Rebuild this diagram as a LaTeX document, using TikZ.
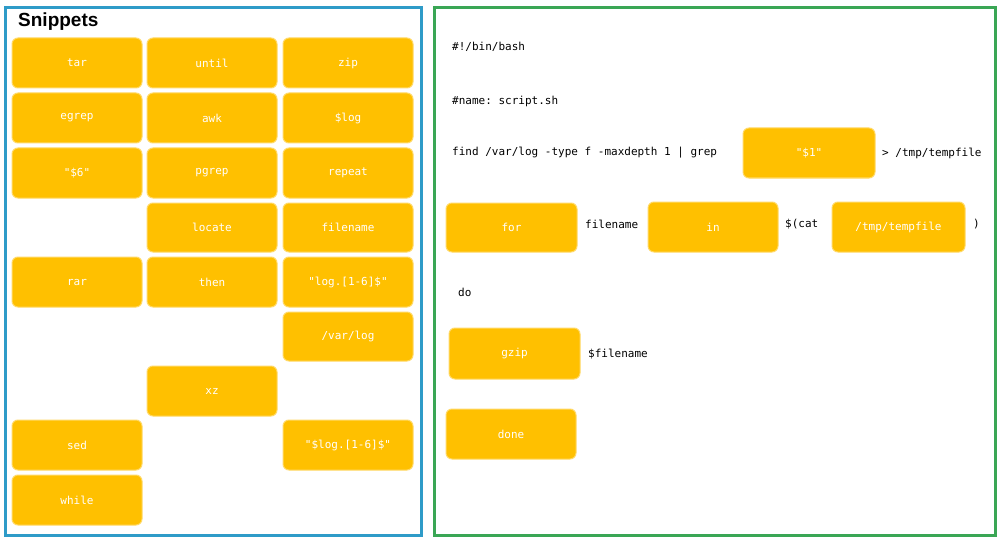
\documentclass[tikz,border=0pt]{standalone}
\usepackage{fontspec}
\setmonofont{DejaVu Sans Mono}
\setsansfont{Liberation Sans}
\definecolor{gold}{HTML}{FFC000}
\definecolor{pblue}{HTML}{2E9BC8}
\definecolor{pgreen}{HTML}{3AA655}
\begin{document}
\begin{tikzpicture}[x=1pt,y=-1pt,
  chip/.style={fill=gold,draw=gold!60!white,line width=1pt,rounded corners=6pt},
  chiptxt/.style={text=white,font=\ttfamily\fontsize{11}{13}\selectfont},
  code/.style={anchor=west,inner sep=0pt,font=\ttfamily\fontsize{11}{13}\selectfont}]
\useasboundingbox (0,0) rectangle (1000,540);
\fill[white] (0,0) rectangle (1000,540);
\draw[pblue,line width=3pt] (5,8) rectangle (421,535);
\draw[pgreen,line width=3pt] (434,8) rectangle (995,535);
\node[anchor=west,inner sep=0pt,font=\sffamily\bfseries\fontsize{19}{21}\selectfont] (title) at (18,22) {Snippets};
\newcommand\chipbox[6]{%
  \draw[chip] (#2,#3) rectangle (#4,#5);
  \node[chiptxt] (#1) at ({(#2+#4)/2},{(#3+#5)/2}) {#6};}
\chipbox{s1}{12}{38}{142}{88}{tar}
\chipbox{s2}{147}{38}{277}{88}{until}
\chipbox{s3}{283}{38}{413}{88}{zip}
\chipbox{s4}{12}{93}{142}{143}{egrep}
\chipbox{s5}{147}{93}{277}{143}{awk}
\chipbox{s6}{283}{93}{413}{143}{\$log}
\chipbox{s7}{12}{148}{142}{198}{"\$6"}
\chipbox{s8}{147}{148}{277}{198}{pgrep}
\chipbox{s9}{283}{148}{413}{198}{repeat}
\chipbox{s10}{147}{203}{277}{252}{locate}
\chipbox{s11}{283}{203}{413}{252}{filename}
\chipbox{s12}{12}{257}{142}{307}{rar}
\chipbox{s13}{147}{257}{277}{307}{then}
\chipbox{s14}{283}{257}{413}{307}{"log.[1-6]\$"}
\chipbox{s15}{283}{312}{413}{361}{/var/log}
\chipbox{s16}{147}{366}{277}{416}{xz}
\chipbox{s17}{12}{420}{142}{470}{sed}
\chipbox{s18}{283}{420}{413}{470}{"\$log.[1-6]\$"}
\chipbox{s19}{12}{475}{142}{525}{while}
\node[code] (l1) at (452,47) {\#!/bin/bash};
\node[code] (l2) at (452,101) {\#name: script.sh};
\node[code] (l3) at (452,153) {find /var/log -type f -maxdepth 1 | grep};
\chipbox{b1}{743}{128}{875}{178}{"\$1"}
\node[code] (l3b) at (882,153) {> /tmp/tempfile};
\chipbox{b2}{446}{203}{577}{252}{for}
\node[code] (l4a) at (585,224) {filename};
\chipbox{b3}{648}{202}{778}{252}{in}
\node[code] (l4b) at (785,224) {\$(cat};
\chipbox{b4}{832}{202}{965}{252}{/tmp/tempfile}
\node[code] (l4c) at (973,224) {)};
\node[code] (l5) at (458,292) {do};
\chipbox{b5}{449}{328}{580}{379}{gzip}
\node[code] (l6) at (588,354) {\$filename};
\chipbox{b6}{446}{409}{576}{459}{done}
\end{tikzpicture}
\end{document}
